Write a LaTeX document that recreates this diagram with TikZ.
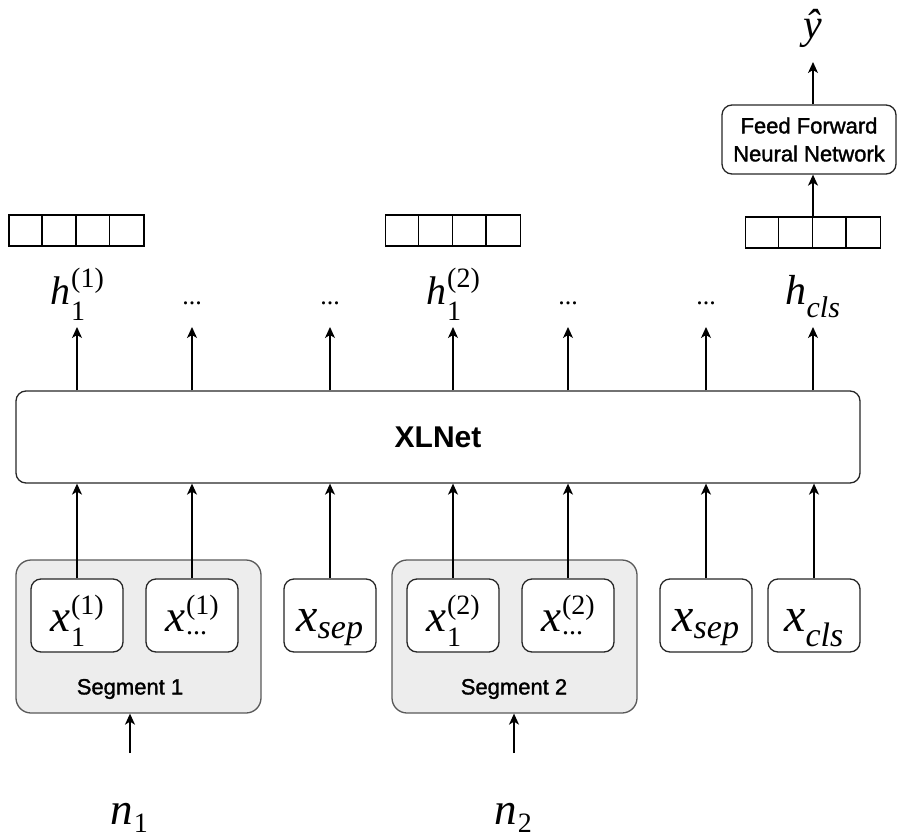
\documentclass[tikz,border=0pt]{standalone}
\usepackage{fontspec}
\setsansfont{Liberation Sans}
\newfontfamily\medsans[FakeBold=1.5]{Liberation Sans}
\newfontfamily\tmfont[NFSSFamily=libtm]{Liberation Serif}
% Times-like letters and digits in math
\DeclareSymbolFont{letters}{TU}{libtm}{m}{it}
\DeclareSymbolFont{operators}{TU}{libtm}{m}{n}
\mathcode`.="702E
\DeclareMathSizes{48}{48}{34}{24}
\DeclareMathSizes{42}{42}{30}{21}
\DeclareMathSizes{44}{44}{31}{22}
% letter with stacked index: size, letter, sub, sup, sub drop
\newcommand{\tokidx}[5]{%
  {\tmfont\fontsize{#1}{#1}\selectfont\itshape #2}\kern1pt%
  {\tmfont\fontsize{28}{30}\selectfont
   \setbox0\hbox{\raisebox{17pt}{#4}}\setbox2\hbox{\raisebox{-#5}{#3}}%
   \ifdim\wd0>\wd2 \rlap{\box2}\box0 \else \rlap{\box0}\box2 \fi}}
\usetikzlibrary{arrows.meta,positioning}

\tikzset{
  arr/.style={-{Stealth[length=11pt,width=10pt,inset=3pt]}, line width=1.3pt},
  tok/.style={draw=black!85, fill=white, line width=1.3pt, rounded corners=10pt,
    minimum width=92pt, minimum height=73pt, inner sep=0pt, text height=45pt, text depth=14pt,
    font=\fontsize{48}{52}\selectfont},
  segbox/.style={draw=black!65, fill=black!7, line width=1.3pt, rounded corners=15pt,
    minimum width=245pt, minimum height=153pt},
  vecbox/.style={draw, line width=1.3pt, minimum width=135pt, minimum height=31pt, inner sep=0pt},
  hlab/.style={anchor=south, inner sep=0pt, inner ysep=8pt, text height=30pt, text depth=14pt,
    font=\fontsize{42}{46}\selectfont},
  hdots/.style={hlab, font=\tmfont\fontsize{26}{28}\selectfont},
  seglab/.style={font=\medsans\fontsize{22}{26}\selectfont},
}

\begin{document}
\begin{tikzpicture}[x=1pt,y=-1pt]
\useasboundingbox (0,0) rectangle (897,835);
% segments
\node[segbox] (seg1) at (138.5,636.5) {};
\node[segbox] (seg2) at (514.5,636.5) {};
\node[seglab] (s1) at (130,689) {Segment 1};
\node[seglab] (s2) at (514,689) {Segment 2};
% input tokens
\node[tok] (a1) at (77,615.5) {\tokidx{45}{x}{1}{(1)}{15pt}};
\node[tok] (a2) at (192,615.5) {\tokidx{45}{x}{...}{(1)}{3pt}};
\node[tok] (a3) at (330,615.5) {$x_{sep}$};
\node[tok] (a4) at (453,615.5) {\tokidx{45}{x}{1}{(2)}{15pt}};
\node[tok] (a5) at (568,615.5) {\tokidx{45}{x}{...}{(2)}{3pt}};
\node[tok] (a6) at (706,615.5) {$x_{sep}$};
\node[tok] (a7) at (814,615.5) {$x_{cls}$};
% encoder
\node[draw=black!85, line width=1.3pt, rounded corners=10pt, minimum width=844pt, minimum height=92pt,
  font=\sffamily\bfseries\fontsize{30}{34}\selectfont] (xlnet) at (438,437) {XLNet};
\foreach \t in {a1,a2,a3,a4,a5,a6,a7}
  \draw[arr] (\t.north) -- (\t.north |- xlnet.south);
% outputs
\node[hlab] (h1) at (77,327) {\tokidx{40}{h}{1}{(1)}{16pt}};
\node[hdots] (h2) at (192,327) {...};
\node[hdots] (h3) at (330,327) {...};
\node[hlab] (h4) at (453,327) {\tokidx{40}{h}{1}{(2)}{16pt}};
\node[hdots] (h5) at (568,327) {...};
\node[hdots] (h6) at (706,327) {...};
\node[hlab] (h7) at (813,327) {$h_{cls}$};
\foreach \h in {h1,h2,h3,h4,h5,h6,h7}
  \draw[arr] (xlnet.north -| \h) -- (\h.south);
% hidden vectors
\node[vecbox] (v1) at (76.5,230.5) {};
\node[vecbox] (v2) at (453,230.5) {};
\node[vecbox] (v3) at (813,232.5) {};
\foreach \v in {v1,v2,v3}
  \foreach \k in {1,2,3}
    \draw[line width=1.3pt] ([xshift=\k*33.75pt]\v.north west) -- ([xshift=\k*33.75pt]\v.south west);
% classifier
\node[draw=black!85, line width=1.3pt, rounded corners=10pt, minimum width=174pt, minimum height=69pt,
  align=center, font=\medsans\fontsize{22}{28}\selectfont] (ffnn) at (809,139.5) {Feed Forward\\Neural Network};
\draw[arr] (v3.north) -- (v3.north |- ffnn.south);
\node[anchor=south, inner ysep=14pt, font=\tmfont\itshape\fontsize{42}{46}\selectfont] (yhat) at (813,62) {ŷ};
\draw[arr] (ffnn.north -| yhat) -- (yhat.south);
% segment inputs
\coordinate (n1top) at (130,753);
\coordinate (n2top) at (514,753);
\node[anchor=base] (n1) at (129,824) {\tokidx{45}{n}{1}{}{8pt}};
\node[anchor=base] (n2) at (513,824) {\tokidx{45}{n}{2}{}{8pt}};
\draw[arr] (n1top) -- (n1top |- seg1.south);
\draw[arr] (n2top) -- (n2top |- seg2.south);
\end{tikzpicture}
\end{document}
